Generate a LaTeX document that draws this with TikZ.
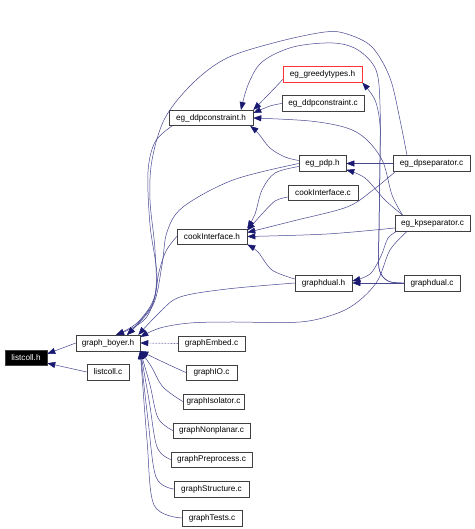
\documentclass[tikz,border=0pt]{standalone}
\usepackage{fontspec}
\setmainfont{Liberation Sans}
\usetikzlibrary{arrows.meta}
\definecolor{edgec}{RGB}{25,25,112}
\definecolor{linec}{RGB}{70,70,145}
\begin{document}
\begin{tikzpicture}[x=1pt,y=-1pt,
  box/.style={draw=black!75, line width=0.5pt, minimum height=15.5pt, inner sep=0pt,
    font=\fontsize{8.2}{9}\selectfont},
  dep/.style={linec, line width=0.5pt, -{Triangle[length=8pt,width=6pt,color=edgec]}},
  curvy/.style={smooth, tension=0.55}]
\useasboundingbox[fill=white] (0,0) rectangle (474,529);
% nodes
\node[box,minimum width=42pt,fill=black,text=white] (lh) at (26,357.5) {listcoll.h};
\node[box,minimum width=64pt] (gb) at (108,343) {graph\_boyer.h};
\node[box,minimum width=42pt] (lc) at (108,372) {listcoll.c};
\node[box,minimum width=67pt] (ge) at (211.5,343.5) {graphEmbed.c};
\node[box,minimum width=51pt] (gio) at (211.5,372.5) {graphIO.c};
\node[box,minimum width=61pt] (gis) at (213.5,401.5) {graphIsolator.c};
\node[box,minimum width=77pt] (gnp) at (211.5,430.5) {graphNonplanar.c};
\node[box,minimum width=81pt] (gpp) at (211.5,459.5) {graphPreprocess.c};
\node[box,minimum width=75pt] (gst) at (211.5,489) {graphStructure.c};
\node[box,minimum width=60pt] (gts) at (212,518) {graphTests.c};
\node[box,minimum width=70pt] (cih) at (212,236.5) {cookInterface.h};
\node[box,minimum width=84pt] (ddph) at (211,118) {eg\_ddpconstraint.h};
\node[box,minimum width=79pt,draw=red!80] (egt) at (322.5,74.5) {eg\_greedytypes.h};
\node[box,minimum width=82pt] (ddpc) at (323,103.5) {eg\_ddpconstraint.c};
\node[box,minimum width=47pt] (pdp) at (322.5,163.5) {eg\_pdp.h};
\node[box,minimum width=77pt] (dps) at (431.5,163.5) {eg\_dpseparator.c};
\node[box,minimum width=70pt] (cic) at (323,193) {cookInterface.c};
\node[box,minimum width=75pt] (kp) at (432.5,223) {eg\_kpseparator.c};
\node[box,minimum width=57pt] (gdh) at (323.5,283) {graphdual.h};
\node[box,minimum width=56pt] (gdc) at (432,283) {graphdual.c};
% edges into listcoll.h
\draw[dep] (gb.west) -- (lh.10);
\draw[dep] (lc.west) -- (lh.-15);
% edges into graph_boyer.h from below/right
\draw[dep,densely dotted,line width=0.7pt] (ge.west) -- (gb.east);
\draw[dep] plot[curvy] coordinates {(gio.west) (163,362) (gb.south east)};
\draw[dep] plot[curvy] coordinates {(gis.west) (163,387) (151,366) (gb.south east)};
\draw[dep] plot[curvy] coordinates {(gnp.west) (158,418) (150,385) (gb.south east)};
\draw[dep] plot[curvy] coordinates {(gpp.west) (157,447) (149,400) (gb.south east)};
\draw[dep] plot[curvy] coordinates {(gst.west) (156,477) (148,420) (gb.south east)};
\draw[dep] plot[curvy] coordinates {(gts.west) (154,505) (147,440) (gb.south east)};
% edges into graph_boyer.h from above
\draw[dep] plot[curvy] coordinates {([xshift=-24.5pt]dps.north) (400,120) (390,78) (372,47) (347,34) (325,32) (277,42) (227,58) (193,83) (165,118) (152,160) (150,200) (155,250) (155,295) (138,322) ([xshift=8pt]gb.north)};
\draw[dep] plot[curvy] coordinates {([xshift=-39pt]ddph.south) (155,142) (148,172) (150,225) (157,280) (146,318) ([xshift=8pt]gb.north)};
\draw[dep] plot[curvy] coordinates {(cih.west) (166,251) (159,272) (152,305) ([xshift=19pt]gb.north)};
\draw[dep] plot[curvy] coordinates {(pdp.west) (233,180) (183,207) (167,232) (162,265) (153,305) ([xshift=19pt]gb.north)};
\draw[dep] plot[curvy] coordinates {(gdh.west) (227,289) (180,297) (160,312) ([xshift=-2pt]gb.north east)};
\draw[dep] plot[curvy] coordinates {([xshift=-25pt]kp.south) (390,250) (378,280) (360,300) (338,313) (300,322) (230,322) (190,323) (160,328) ([yshift=-2pt]gb.north east)};
% edges into eg_ddpconstraint.h
\draw[dep] plot[curvy] coordinates {([yshift=-5pt]egt.west) (268,95) (ddph.north east)};
\draw[dep] plot[curvy] coordinates {(ddpc.west) (270,106) ([yshift=-3pt]ddph.north east)};
\draw[dep] plot[curvy] coordinates {([xshift=-30pt]kp.north) (392,195) (383,162) (367,140) (347,128) (310,121) (ddph.east)};
\draw[dep] plot[curvy] coordinates {([yshift=3pt]pdp.west) (285,157) (270,148) (258,133) ([xshift=-3pt]ddph.south east)};
\draw[dep] plot[curvy] coordinates {(gdc.west) (388,281) (379,268) (379,230) (380,160) (380,105) (376,70) (358,50) (333,43) (293,47) (262,62) (248,85) ([xshift=30pt]ddph.north)};
% edge into eg_greedytypes.h
\draw[dep] plot[curvy] coordinates {(gdc.west) (388,281) (379,268) (379,230) (380,160) (380,125) (375,100) (egt.south east)};
% edges into eg_pdp.h
\draw[dep] (dps.west) -- (pdp.east);
\draw[dep] plot[curvy] coordinates {([xshift=-30pt]kp.north) (385,200) (365,178) (pdp.-15)};
% edges into cookInterface.h
\draw[dep] plot[curvy] coordinates {([xshift=-36pt]dps.south) (373,190) (347,207) (293,221) ([yshift=4pt]cih.east)};
\draw[dep] plot[curvy] coordinates {([yshift=-5pt]kp.west) (327,234) (cih.east)};
\draw[dep] plot[curvy] coordinates {([yshift=-4pt]cic.west) (275,201) (262,214) ([yshift=6pt]cih.east)};
\draw[dep] plot[curvy] coordinates {([yshift=-3pt]pdp.west) (275,173) (262,190) (255,214) (cih.north east)};
\draw[dep] plot[curvy] coordinates {([yshift=4pt]gdh.west) (272,270) (258,252) (cih.south east)};
% edges into graphdual.h
\draw[dep] (gdc.west) -- (gdh.east);
\draw[dep] plot[curvy] coordinates {([xshift=-35pt]kp.south) (388,238) (381,256) (370,274) ([yshift=2pt]gdh.east)};
\end{tikzpicture}
\end{document}
